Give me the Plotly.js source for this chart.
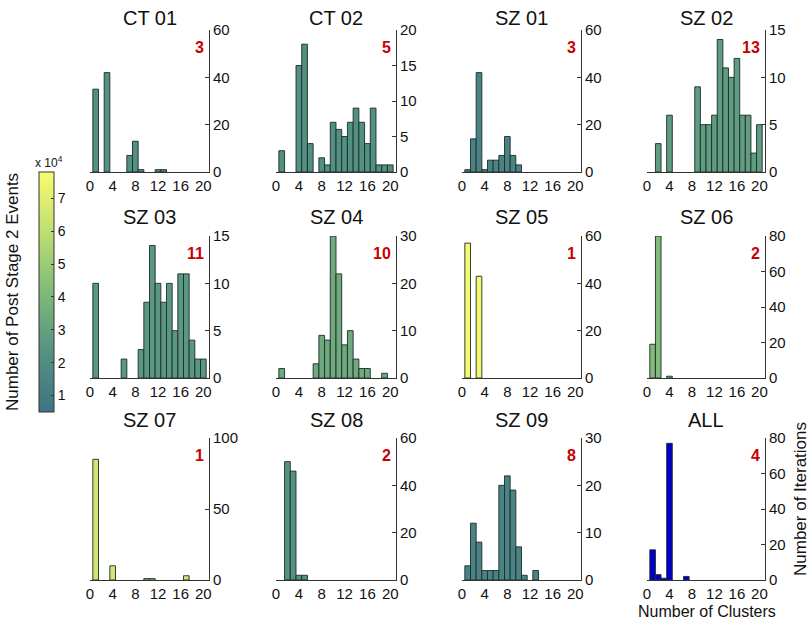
<!DOCTYPE html>
<html>
<head>
<meta charset="utf-8">
<script src="https://cdn.plot.ly/plotly-3.0.1.min.js"></script>
<style>html,body{margin:0;padding:0;background:#fff;}#chart{width:810px;height:623px;}</style>
</head>
<body>
<div id="chart"></div>
<script>
// ---- data ----
const clusters = [1,2,3,4,5,6,7,8,9,10,11,12,13,14,15,16,17,18,19,20];
const subjects = ["CT 01","CT 02","SZ 01","SZ 02","SZ 03","SZ 04","SZ 05","SZ 06","SZ 07","SZ 08","SZ 09","ALL"];
const ct01 = [35,0,42,0,0,0,7,13,1,0,0,1,1,0,0,0,0,0,0,0];
const ct02 = [3,0,0,15,18,4,0,2,1,7,6,5,7,9,7,4,9,1,1,1];
const sz01 = [1,14,42,1,5,5,7,15,7,3,0,0,0,0,0,0,0,0,0,0];
const sz02 = [0,3,0,6,0,0,0,0,9,5,5,6,14,11,10,12,6,6,2,5];
const sz03 = [10,0,0,0,0,2,0,0,3,8,14,10,8,10,5,11,11,4,2,2];
const sz04 = [2,0,0,0,0,0,3,9,8,30,22,7,10,4,2,2,0,0,1,0];
const sz05 = [57,0,43,0,0,0,0,0,0,0,0,0,0,0,0,0,0,0,0,0];
const sz06 = [19,80,0,1,0,0,0,0,0,0,0,0,0,0,0,0,0,0,0,0];
const sz07 = [85,0,0,10,0,0,0,0,0,1,1,0,0,0,0,0,3,0,0,0];
const sz08 = [0,50,46,2,2,0,0,0,0,0,0,0,0,0,0,0,0,0,0,0];
const sz09 = [3,12,8,2,2,2,20,22,19,7,1,0,2,0,0,0,0,0,0,0];
const allSubj = [17,3,1,77,0,0,2,0,0,0,0,0,0,0,0,0,0,0,0,0];
const series = [ct01,ct02,sz01,sz02,sz03,sz04,sz05,sz06,sz07,sz08,sz09,allSubj];
const bestClusters = [3,5,3,13,11,10,1,2,1,2,8,4];
const yMax = [60,20,60,15,15,30,60,80,100,60,30,80];
const yStep = [20,5,20,5,5,10,20,20,50,20,10,20];
// post stage 2 events (x 10^4)
const events = [2.2,2.2,1.4,2.8,2.6,3.4,7.6,4.2,6.5,2.3,1.4,null];
const cbTicks = [1,2,3,4,5,6,7];
const cbMin = 0.5, cbMax = 7.8;

// ---- style ----
const W = 810, H = 623;
const FONT = "Liberation Sans, Arial, Helvetica, sans-serif";
const colX = [[90,209],[276,396],[462,581],[647,765]];
const rowY = [[30,172],[236,378],[438,580]];
const titleY = [18,217,420];
const cscale = [[0,'rgb(62,116,132)'],[0.25,'rgb(84,146,130)'],[0.5,'rgb(128,186,121)'],[0.75,'rgb(190,222,114)'],[1,'rgb(250,252,112)']];
const allColor = 'rgb(0,0,205)';

function parseRgb(s){return s.match(/\d+/g).map(Number);}
function colorFor(v){
  const t = Math.max(0,Math.min(1,(v-cbMin)/(cbMax-cbMin)));
  for(let i=1;i<cscale.length;i++){
    if(t<=cscale[i][0]){
      const a=cscale[i-1], b=cscale[i];
      const f=(t-a[0])/(b[0]-a[0]);
      const ca=parseRgb(a[1]), cb=parseRgb(b[1]);
      return 'rgb('+ca.map((c,k)=>Math.round(c+(cb[k]-c)*f)).join(',')+')';
    }
  }
  return cscale[cscale.length-1][1];
}

const traces = [];
const layout = {
  width: W, height: H,
  margin: {l:0,r:0,t:0,b:0},
  paper_bgcolor: '#fff', plot_bgcolor: 'rgba(0,0,0,0)',
  showlegend: false,
  bargap: 0,
  font: {family: FONT, color: '#111', size: 15},
  annotations: []
};

subjects.forEach((name, i) => {
  const r = Math.floor(i/4), c = i%4;
  const xa = 'xaxis'+(i+1), ya = 'yaxis'+(i+1);
  const xr = 'x'+(i+1), yr = 'y'+(i+1);
  const col = events[i] === null ? allColor : colorFor(events[i]);
  traces.push({
    type: 'bar',
    x: clusters,
    y: series[i].map(v => v === 0 ? null : v),
    xaxis: xr, yaxis: yr,
    width: 1,
    marker: {color: col, line: {color: '#1e2a2a', width: 0.9}},
    hoverinfo: 'x+y'
  });
  layout[xa] = {
    domain: [colX[c][0]/W, colX[c][1]/W],
    anchor: yr,
    range: [0, 21],
    tickvals: [0,4,8,12,16,20],
    ticks: '', showgrid: false, zeroline: false,
    showline: true, linecolor: '#333', linewidth: 1,
    tickfont: {size: 15, family: FONT, color: '#111'},
    fixedrange: true
  };
  const tv = [];
  for (let v = 0; v <= yMax[i]; v += yStep[i]) tv.push(v);
  layout[ya] = {
    domain: [1 - rowY[r][1]/H, 1 - rowY[r][0]/H],
    anchor: xr,
    side: 'right',
    range: [0, yMax[i]],
    tickvals: tv,
    ticks: 'inside', ticklen: 4, tickcolor: '#333',
    showgrid: false, zeroline: false,
    showline: true, linecolor: '#333', linewidth: 1,
    tickfont: {size: 15, family: FONT, color: '#111'},
    fixedrange: true
  };
  layout.annotations.push({
    xref: 'paper', yref: 'paper',
    x: (colX[c][0]+colX[c][1])/2/W, y: 1 - titleY[r]/H,
    xanchor: 'center', yanchor: 'middle',
    text: name, showarrow: false,
    font: {size: 20, family: FONT, color: '#111'}
  });
  layout.annotations.push({
    xref: xr+' domain', yref: yr+' domain',
    x: 0.975, y: 0.88,
    xanchor: 'right', yanchor: 'middle',
    text: '<b>'+bestClusters[i]+'</b>', showarrow: false,
    font: {size: 16, family: FONT, color: 'rgb(200,0,0)'}
  });
});

// colorbar via hidden trace
traces.push({
  type: 'scatter', mode: 'markers',
  x: [0,1], y: [0,1],
  xaxis: 'x13', yaxis: 'y13',
  hoverinfo: 'skip',
  marker: {
    color: [cbMin, cbMax], cmin: cbMin, cmax: cbMax,
    colorscale: cscale, opacity: 0, showscale: true,
    colorbar: {
      x: 39/W, xanchor: 'left', xpad: 0,
      y: 1 - 412/H, yanchor: 'bottom', ypad: 0,
      len: 240, lenmode: 'pixels',
      thickness: 15, thicknessmode: 'pixels',
      outlinewidth: 1, outlinecolor: '#333',
      tickvals: cbTicks, ticks: 'inside', ticklen: 3, tickcolor: '#333',
      tickfont: {size: 14, family: FONT, color: '#111'}
    }
  }
});
layout.xaxis13 = {domain: [0, 0.01], visible: false, anchor: 'y13'};
layout.yaxis13 = {domain: [0, 0.01], visible: false, anchor: 'x13'};

layout.annotations.push(
  {xref:'paper', yref:'paper', x: 12/W, y: 1 - 292/H, xanchor:'center', yanchor:'middle',
   text:'Number of Post Stage 2 Events', textangle:-90, showarrow:false,
   font:{size:17, family:FONT, color:'#111'}},
  {xref:'paper', yref:'paper', x: 33/W, y: 1 - 162/H, xanchor:'left', yanchor:'middle',
   text:'x 10<sup>4</sup>', showarrow:false,
   font:{size:12, family:FONT, color:'#111'}},
  {xref:'paper', yref:'paper', x: 800/W, y: 1 - 499/H, xanchor:'center', yanchor:'middle',
   text:'Number of Iterations', textangle:-90, showarrow:false,
   font:{size:17, family:FONT, color:'#111'}},
  {xref:'paper', yref:'paper', x: 707/W, y: 1 - 611/H, xanchor:'center', yanchor:'middle',
   text:'Number of Clusters', showarrow:false,
   font:{size:16, family:FONT, color:'#111'}}
);

Plotly.newPlot('chart', traces, layout, {displayModeBar: false, staticPlot: true});
</script>
</body>
</html>
